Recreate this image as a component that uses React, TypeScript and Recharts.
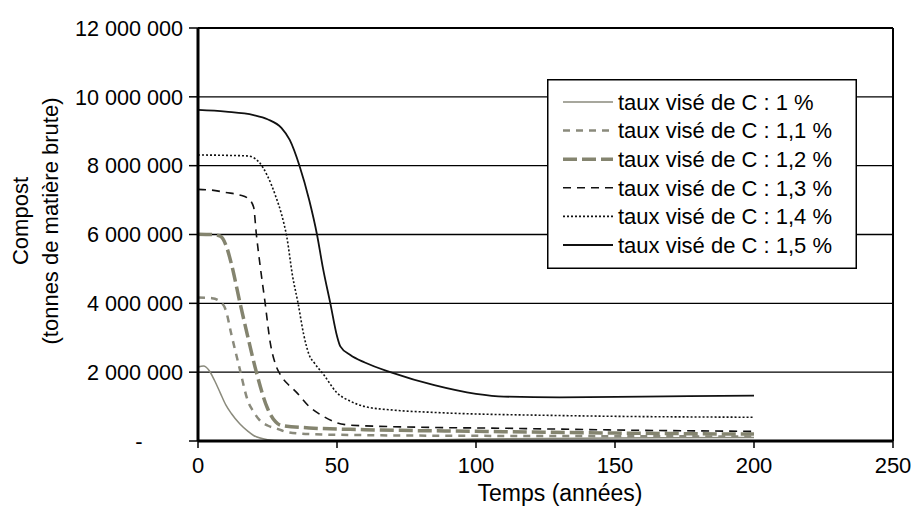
import React from "react"
import { LineChart, Line, XAxis, YAxis, CartesianGrid, Legend, ReferenceLine, Label } from "recharts"

const FONT = "'Liberation Sans', Arial, sans-serif"

// temps (années) / compost (tonnes) for each taux visé de C
const t100 = [0, 2, 4, 6, 8, 10, 12, 15, 18, 20, 25, 30, 40, 50, 75, 100, 150, 200]
const c100 = [2150000, 2180000, 2050000, 1750000, 1400000, 1050000, 800000, 500000, 280000, 160000, 40000, 10000, 5000, 10000, 30000, 55000, 85000, 100000]

const t110 = [0, 5, 8, 10, 12, 15, 18, 20, 22, 25, 28, 32, 40, 60, 100, 150, 200]
const c110 = [4170000, 4150000, 4050000, 3800000, 3100000, 2100000, 1150000, 850000, 620000, 450000, 370000, 260000, 200000, 170000, 150000, 140000, 130000]

const t120 = [0, 5, 8, 10, 12, 15, 18, 21, 25, 28, 30, 40, 60, 100, 150, 200]
const c120 = [6010000, 6000000, 5950000, 5700000, 5150000, 4050000, 3000000, 2000000, 950000, 550000, 450000, 380000, 330000, 280000, 230000, 200000]

const t130 = [0, 5, 10, 15, 18, 20, 21, 22.5, 24, 26, 28, 30, 33, 35, 40, 45, 50, 55, 80, 110, 150, 200]
const c130 = [7310000, 7290000, 7220000, 7150000, 7050000, 6800000, 6000000, 5000000, 4100000, 2850000, 2200000, 1880000, 1600000, 1450000, 1000000, 720000, 530000, 460000, 400000, 370000, 320000, 280000]

const t140 = [0, 10, 18, 22, 25, 28, 30, 32, 34, 36, 38, 40, 42, 45, 50, 55, 60, 70, 85, 130, 200]
const c140 = [8310000, 8300000, 8280000, 8100000, 7700000, 7100000, 6600000, 5900000, 4800000, 4000000, 3100000, 2500000, 2250000, 1950000, 1400000, 1150000, 1000000, 900000, 830000, 740000, 690000]

const t150 = [0, 10, 20, 25, 30, 33, 36.5, 40, 42.8, 45, 47.6, 50, 51.2, 54.8, 60, 70, 85, 100, 110, 130, 160, 200]
const c150 = [9620000, 9570000, 9470000, 9350000, 9100000, 8750000, 8000000, 7000000, 6000000, 5000000, 4000000, 3050000, 2750000, 2500000, 2280000, 1980000, 1620000, 1370000, 1290000, 1270000, 1290000, 1320000]

const xTicks = [0, 50, 100, 150, 200, 250]
const yTicks = [0, 2000000, 4000000, 6000000, 8000000, 10000000, 12000000]

const zip = (t: number[], c: number[]) => t.map((x, i) => ({ t: x, v: c[i] }))

const series = [
  { name: "taux visé de C : 1 %", data: zip(t100, c100), color: "#8a8a7c", width: 1.5, dash: undefined },
  { name: "taux visé de C : 1,1 %", data: zip(t110, c110), color: "#8a8a7c", width: 2.5, dash: "7 6" },
  { name: "taux visé de C : 1,2 %", data: zip(t120, c120), color: "#84846f", width: 3.5, dash: "14 5" },
  { name: "taux visé de C : 1,3 %", data: zip(t130, c130), color: "#111", width: 1.6, dash: "8 6" },
  { name: "taux visé de C : 1,4 %", data: zip(t140, c140), color: "#111", width: 1.6, dash: "2 2" },
  { name: "taux visé de C : 1,5 %", data: zip(t150, c150), color: "#111", width: 1.8, dash: undefined },
]

const fmt = (v: number) => String(v).replace(/\B(?=(\d{3})+(?!\d))/g, " ")

function YTick(props: any) {
  const { x, y, payload } = props
  if (payload.value === 0) {
    return (
      <text x={x - 44} y={y} dy="0.355em" textAnchor="middle" fontSize={22} fontFamily={FONT} fill="#000">
        -
      </text>
    )
  }
  return (
    <text x={x} y={y} dy="0.355em" textAnchor="end" fontSize={21.6} fontFamily={FONT} fill="#000">
      {fmt(payload.value)}
    </text>
  )
}

function LegendBox() {
  return (
    <svg width={310} height={190} style={{ display: "block" }}>
      <rect x={0.75} y={0.75} width={308.5} height={188.5} fill="#fff" stroke="#000" strokeWidth={1.5} />
      {series.map((s, i) => {
        const y = 23 + i * 28.6
        return (
          <g key={s.name}>
            <line x1={16} x2={66} y1={y} y2={y} stroke={s.color} strokeWidth={s.width} strokeDasharray={s.dash} />
            <text x={71} y={y} dy="0.355em" fontSize={22} fontFamily={FONT} fill="#000">
              {s.name}
            </text>
          </g>
        )
      })}
    </svg>
  )
}

export default function App() {
  return (
    <div style={{ position: "absolute", left: 0, top: 0, width: 920, height: 506, background: "#fff" }}>
      <LineChart width={920} height={506} margin={{ top: 28, right: 27, bottom: 0, left: 0 }}>
        <CartesianGrid vertical={false} stroke="#000" strokeWidth={1.3} />
        <XAxis
          dataKey="t"
          type="number"
          domain={[0, 250]}
          ticks={xTicks}
          height={65}
          tickSize={7}
          tickMargin={9}
          axisLine={{ stroke: "#000", strokeWidth: 3 }}
          tickLine={{ stroke: "#000", strokeWidth: 1.5 }}
          tick={{ fill: "#000", fontSize: 22, fontFamily: FONT }}
          allowDuplicatedCategory={false}
        >
          <Label
            content={() => (
              <text x={560} y={501} textAnchor="middle" fontSize={23} fontFamily={FONT} fill="#000">
                Temps (années)
              </text>
            )}
          />
        </XAxis>
        <YAxis
          type="number"
          domain={[0, 12000000]}
          ticks={yTicks}
          width={198}
          tickSize={9}
          tickMargin={6}
          axisLine={{ stroke: "#000", strokeWidth: 3 }}
          tickLine={{ stroke: "#000", strokeWidth: 1.5 }}
          tick={<YTick />}
        >
          <Label
            content={() => (
              <g fontSize={22} fontFamily={FONT} fill="#000">
                <text x={28} y={221} textAnchor="middle" transform="rotate(-90 28 221)">
                  Compost
                </text>
                <text x={58} y={221} textAnchor="middle" transform="rotate(-90 58 221)">
                  (tonnes de matière brute)
                </text>
              </g>
            )}
          />
        </YAxis>
        <ReferenceLine y={12000000} stroke="#000" strokeWidth={2} />
        <ReferenceLine x={250} stroke="#000" strokeWidth={2} />
        {series.map((s) => (
          <Line
            key={s.name}
            data={s.data}
            dataKey="v"
            name={s.name}
            type="monotone"
            stroke={s.color}
            strokeWidth={s.width}
            strokeDasharray={s.dash}
            dot={false}
            isAnimationActive={false}
          />
        ))}
        <Legend
          layout="horizontal"
          verticalAlign="middle"
          align="center"
          content={() => <LegendBox />}
          wrapperStyle={{ left: 547, top: 79, width: 310, height: 190 }}
        />
      </LineChart>
    </div>
  )
}
